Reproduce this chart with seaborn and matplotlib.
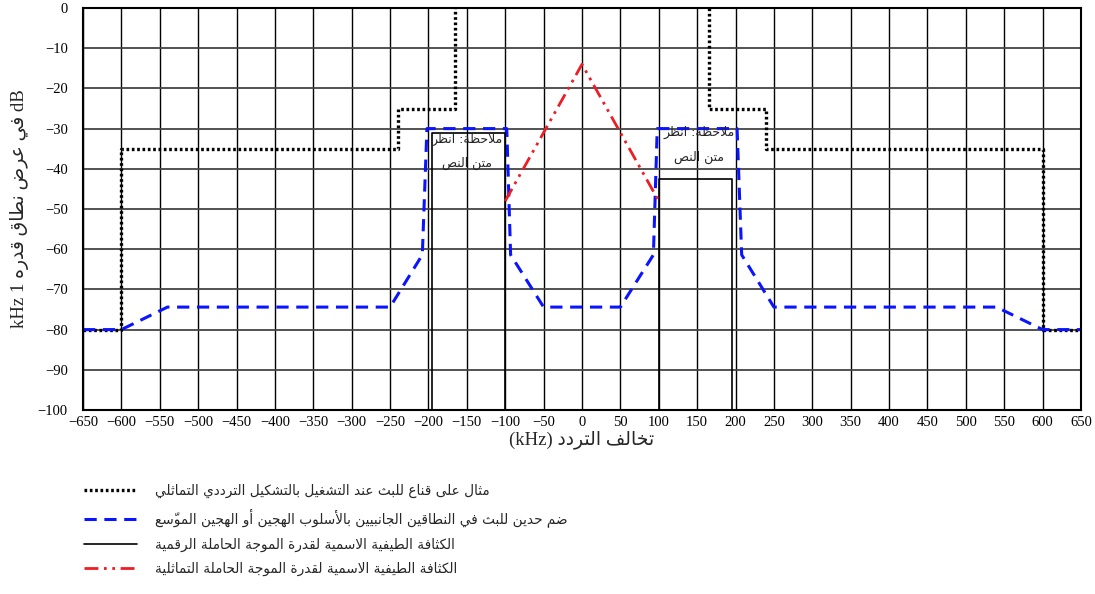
import numpy as np
import pandas as pd
import matplotlib
matplotlib.use("Agg")
import matplotlib.pyplot as plt
import seaborn as sns

# --- chart data (kHz offset, dB in 1 kHz) ---
MASK_LEFT_X = [-650, -600, -600, -240, -240, -165, -165]
MASK_LEFT_Y = [-80, -80, -35, -35, -25, -25, 0]
MASK_RIGHT_X = [165, 165, 240, 240, 600, 600, 650]
MASK_RIGHT_Y = [0, -25, -25, -35, -35, -80, -80]

IBOC_X = [-650, -600, -540, -250, -208, -202, -98, -93, -50,
          50, 93, 98, 202, 208, 250, 540, 600, 650]
IBOC_Y = [-80, -80, -74.4, -74.4, -61.4, -30, -30, -61.4, -74.4,
          -74.4, -61.4, -30, -30, -61.4, -74.4, -74.4, -80, -80]

DIGITAL_LEFT_X = [-196, -196, -100, -100]
DIGITAL_LEFT_Y = [-100, -31, -31, -100]
DIGITAL_RIGHT_X = [100, 100, 196, 196]
DIGITAL_RIGHT_Y = [-100, -42.5, -42.5, -100]

ANALOG_X = [-100, 0, 100]
ANALOG_Y = [-48, -14, -48]

X_TICKS = list(range(-650, 651, 50))
Y_TICKS = list(range(-100, 1, 10))

LEGEND_LABELS = [
    "مثال على قناع للبث عند التشغيل بالتشكيل الترددي التماثلي",
    "ضم حدين للبث في النطاقين الجانبيين بالأسلوب الهجين أو الهجين الموسّع",
    "الكثافة الطيفية الاسمية لقدرة الموجة الحاملة الرقمية",
    "الكثافة الطيفية الاسمية لقدرة الموجة الحاملة التماثلية",
]
NOTE_LINE1 = "ملاحظة: انظر"
NOTE_LINE2 = "متن النص"
XLABEL_AR = "تخالف التردد"
YLABEL_AR = "في عرض نطاق قدره"

# --- tiny Arabic shaper (matplotlib has no complex text layout) ---
# value: (isolated form code point, joining type) 0=none, 1=right only, 2=dual
FORMS = {
    "ء": (0xFE80, 0), "آ": (0xFE81, 1), "أ": (0xFE83, 1), "ؤ": (0xFE85, 1),
    "إ": (0xFE87, 1), "ئ": (0xFE89, 2), "ا": (0xFE8D, 1), "ب": (0xFE8F, 2),
    "ة": (0xFE93, 1), "ت": (0xFE95, 2), "ث": (0xFE99, 2), "ج": (0xFE9D, 2),
    "ح": (0xFEA1, 2), "خ": (0xFEA5, 2), "د": (0xFEA9, 1), "ذ": (0xFEAB, 1),
    "ر": (0xFEAD, 1), "ز": (0xFEAF, 1), "س": (0xFEB1, 2), "ش": (0xFEB5, 2),
    "ص": (0xFEB9, 2), "ض": (0xFEBD, 2), "ط": (0xFEC1, 2), "ظ": (0xFEC5, 2),
    "ع": (0xFEC9, 2), "غ": (0xFECD, 2), "ف": (0xFED1, 2), "ق": (0xFED5, 2),
    "ك": (0xFED9, 2), "ل": (0xFEDD, 2), "م": (0xFEE1, 2), "ن": (0xFEE5, 2),
    "ه": (0xFEE9, 2), "و": (0xFEED, 1), "ى": (0xFEEF, 1), "ي": (0xFEF1, 2),
}
LAM_ALEF = {"آ": 0xFEF5, "أ": 0xFEF7, "إ": 0xFEF9, "ا": 0xFEFB}


def ar(text):
    # clusters: [base code, joining type, marks]
    clusters = []
    i = 0
    while i < len(text):
        ch = text[i]
        if "\u064b" <= ch <= "\u0652" and clusters:
            clusters[-1][2] += ch
        elif ch == "ل" and i + 1 < len(text) and text[i + 1] in LAM_ALEF:
            clusters.append([LAM_ALEF[text[i + 1]], 1, ""])
            i += 1
        elif ch in FORMS:
            base, jt = FORMS[ch]
            clusters.append([base, jt, ""])
        else:
            clusters.append([ch, -1, ""])
        i += 1
    out = []
    for k, (base, jt, marks) in enumerate(clusters):
        if jt < 0:
            out.append(base + marks)
            continue
        prev_jt = clusters[k - 1][1] if k > 0 else -1
        next_jt = clusters[k + 1][1] if k + 1 < len(clusters) else -1
        join_prev = jt in (1, 2) and prev_jt == 2
        join_next = jt == 2 and next_jt in (1, 2)
        if join_prev and join_next:
            code = base + 3
        elif join_next:
            code = base + 2
        elif join_prev:
            code = base + 1
        else:
            code = base
        out.append(chr(code) + marks)
    return "".join(reversed(out))


sns.set_style("white")
plt.rcParams["font.family"] = ["Liberation Serif", "DejaVu Sans"]
plt.rcParams["axes.unicode_minus"] = True

fig = plt.figure(figsize=(10.95, 5.94), dpi=100)
ax = fig.add_axes([83 / 1095, 1 - 410 / 594, 998 / 1095, 402 / 594])

mask_df = pd.DataFrame({
    "f": MASK_LEFT_X + MASK_RIGHT_X,
    "db": MASK_LEFT_Y + MASK_RIGHT_Y,
    "part": ["l"] * len(MASK_LEFT_X) + ["r"] * len(MASK_RIGHT_X),
})
digital_df = pd.DataFrame({
    "f": DIGITAL_LEFT_X + DIGITAL_RIGHT_X,
    "db": DIGITAL_LEFT_Y + DIGITAL_RIGHT_Y,
    "part": ["l"] * len(DIGITAL_LEFT_X) + ["r"] * len(DIGITAL_RIGHT_X),
})
iboc_df = pd.DataFrame({"f": IBOC_X, "db": IBOC_Y})
analog_df = pd.DataFrame({"f": ANALOG_X, "db": ANALOG_Y})

mask_style = dict(color="black", lw=2.4, linestyle=(0, (0.8, 0.8)))
iboc_style = dict(color="#0a14ff", lw=2.2, linestyle=(0, (4, 2.5)))
digital_style = dict(color="black", lw=1.2)
analog_style = dict(color="#ee1c24", lw=2.0, linestyle=(0, (5, 2, 1, 2, 1, 2)))

sns.lineplot(data=mask_df, x="f", y="db", units="part", estimator=None, sort=False,
             ax=ax, **mask_style)
sns.lineplot(data=iboc_df, x="f", y="db", estimator=None, sort=False,
             ax=ax, **iboc_style)
sns.lineplot(data=digital_df, x="f", y="db", units="part", estimator=None, sort=False,
             ax=ax, **digital_style)
sns.lineplot(data=analog_df, x="f", y="db", estimator=None, sort=False,
             ax=ax, **analog_style)

ax.set_xlim(-650, 650)
ax.set_ylim(-100, 0)
ax.set_xticks(X_TICKS)
ax.set_yticks(Y_TICKS)
ax.set_xticklabels([str(v).replace("-", "\u2212") for v in X_TICKS])
ax.set_yticklabels([str(v).replace("-", "\u2212") for v in Y_TICKS])
ax.tick_params(axis="both", length=0, labelsize=10.5, colors="black")
ax.tick_params(axis="x", pad=4)
ax.tick_params(axis="y", pad=11)
ax.grid(axis="x", color="black", lw=1.0)
ax.grid(axis="y", color="#444444", lw=1.3)
ax.set_axisbelow(True)
for sp in ax.spines.values():
    sp.set_color("black")
    sp.set_linewidth(1.5)

ax.set_xlabel("(kHz) " + ar(XLABEL_AR), fontsize=13.5, labelpad=1)
ax.set_ylabel("kHz 1 " + ar(YLABEL_AR) + " dB", fontsize=13.5, labelpad=6)

for cx, y1, y2 in [(-150, -32.6, -38.6), (152, -31.0, -37.2)]:
    ax.text(cx, y1, ar(NOTE_LINE1), ha="center", va="center", fontsize=9,
            family="DejaVu Sans")
    ax.text(cx, y2, ar(NOTE_LINE2), ha="center", va="center", fontsize=9,
            family="DejaVu Sans")

handles = [plt.Line2D([], [], **mask_style), plt.Line2D([], [], **iboc_style),
           plt.Line2D([], [], **digital_style), plt.Line2D([], [], **analog_style)]
fig.legend(handles, [ar(t) for t in LEGEND_LABELS], loc="upper left",
           bbox_to_anchor=(72 / 1095, 1 - 472 / 594), frameon=False,
           handlelength=3.9, handletextpad=1.3, labelspacing=0.75,
           prop={"family": "DejaVu Sans", "size": 9.8})

fig.savefig("out.png", dpi=100)
